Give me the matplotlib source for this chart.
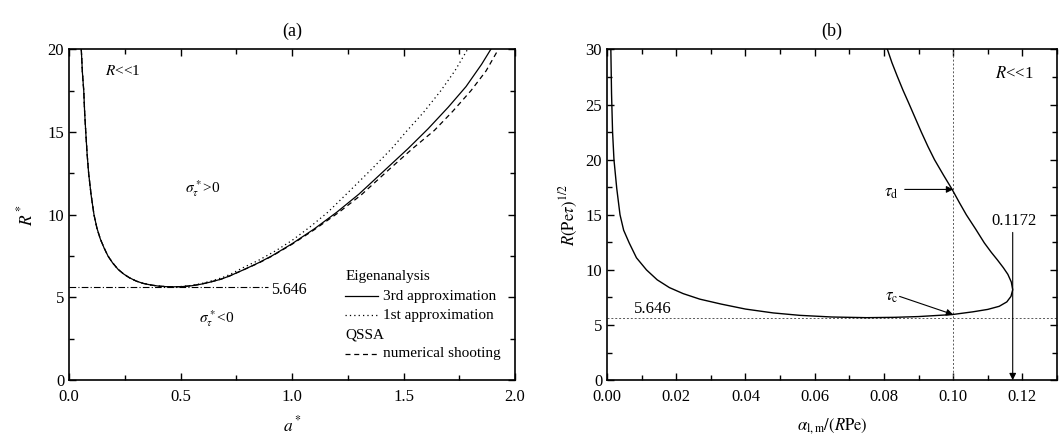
import numpy as np
import matplotlib
matplotlib.use("Agg")
import matplotlib.pyplot as plt
from matplotlib.ticker import MultipleLocator, FormatStrFormatter

plt.rcParams["font.family"] = "serif"
plt.rcParams["font.serif"] = ["Liberation Serif", "DejaVu Serif"]
plt.rcParams["mathtext.fontset"] = "stix"
plt.rcParams["font.size"] = 11

# (a) neutral curves R*(a*), left branch shared by all three
a_left = [0.055, 0.060, 0.066, 0.070, 0.075, 0.081, 0.088, 0.099, 0.112, 0.125, 0.14,
          0.157, 0.175, 0.195, 0.22, 0.245, 0.27, 0.30, 0.33, 0.365, 0.40, 0.435, 0.47]
R_left = [20.0, 18.6, 17.5, 16.2, 15.0, 13.7, 12.5, 11.2, 10.0, 9.2, 8.55,
          8.0, 7.5, 7.1, 6.7, 6.42, 6.2, 6.0, 5.86, 5.76, 5.69, 5.655, 5.646]

a_3rd = [0.51, 0.55, 0.59, 0.63, 0.68, 0.72, 0.79, 0.85, 0.91, 1.00, 1.10, 1.20,
         1.30, 1.42, 1.52, 1.61, 1.70, 1.78, 1.85, 1.891]
R_3rd = [5.66, 5.71, 5.80, 5.92, 6.10, 6.30, 6.72, 7.10, 7.52, 8.25, 9.15, 10.15,
         11.25, 12.75, 14.0, 15.2, 16.5, 17.75, 19.1, 20.0]

a_1st = [0.51, 0.55, 0.59, 0.63, 0.68, 0.72, 0.78, 0.85, 0.93, 1.00, 1.08, 1.16,
         1.24, 1.36, 1.45, 1.51, 1.59, 1.667, 1.73, 1.787]
R_1st = [5.67, 5.73, 5.83, 5.97, 6.17, 6.38, 6.80, 7.25, 7.85, 8.45, 9.26, 10.15,
         11.2, 12.8, 14.05, 15.0, 16.2, 17.5, 18.7, 20.0]

a_qssa = [0.51, 0.55, 0.59, 0.63, 0.68, 0.72, 0.79, 0.85, 0.91, 1.00, 1.10, 1.21,
          1.31, 1.44, 1.54, 1.638, 1.72, 1.802, 1.87, 1.925]
R_qssa = [5.66, 5.71, 5.80, 5.92, 6.10, 6.30, 6.72, 7.08, 7.50, 8.22, 9.10, 10.15,
          11.2, 12.8, 14.0, 15.1, 16.25, 17.5, 18.7, 20.0]

R_min = 5.646

# (b) neutral curve in (alpha, R(Pe tau)^1/2)
alpha_b = [0.0011, 0.0013, 0.0016, 0.0020, 0.0028, 0.00375, 0.0048, 0.0064, 0.0085, 0.0114,
           0.0145, 0.018, 0.022, 0.0268, 0.033, 0.040, 0.048, 0.0557, 0.065, 0.075,
           0.083, 0.090, 0.0997, 0.1057, 0.110, 0.1133, 0.1155, 0.1167, 0.1172, 0.1168,
           0.1158, 0.1145, 0.1128, 0.111, 0.109, 0.1065, 0.1038, 0.1018, 0.0997, 0.0972,
           0.0946, 0.0927, 0.0908, 0.089, 0.0872, 0.0855, 0.0838, 0.0823, 0.081]
R_b = [30.0, 26.0, 22.5, 20.0, 17.4, 15.0, 13.6, 12.45, 11.1, 10.0,
       9.1, 8.4, 7.85, 7.35, 6.9, 6.45, 6.1, 5.88, 5.73, 5.67,
       5.70, 5.77, 5.95, 6.2, 6.42, 6.7, 7.1, 7.6, 8.2, 8.9,
       9.6, 10.2, 10.9, 11.6, 12.45, 13.7, 15.0, 16.1, 17.3, 18.6,
       20.0, 21.2, 22.5, 23.8, 25.1, 26.3, 27.6, 28.8, 30.0]

alpha_mark = 0.10
alpha_max = 0.1172
R_tau_d = 17.3
R_tau_c = 5.95

fig = plt.figure(figsize=(10.62, 4.37), dpi=100)
ax1 = fig.add_axes([0.065, 0.130, 0.420, 0.757])
ax2 = fig.add_axes([0.5716, 0.130, 0.4237, 0.757])

for ax in (ax1, ax2):
    ax.tick_params(which="both", direction="in", top=True, right=True, width=1.0, labelsize=12)
    ax.tick_params(which="major", length=5)
    ax.tick_params(which="minor", length=3.5)
    ax.tick_params(axis="x", which="both", pad=6)
    for s in ax.spines.values():
        s.set_linewidth(1.2)

# ---- panel (a)
dash = (0, (4, 3))
dots = (0, (1, 2.5))
ax1.plot(a_left + a_qssa, R_left + R_qssa, color="k", lw=0.9, ls=dash)
ax1.plot(a_left + a_1st, R_left + R_1st, color="k", lw=0.9, ls=dots)
ax1.plot(a_left + a_3rd, R_left + R_3rd, color="k", lw=0.9)
ax1.plot([0, 0.89], [R_min, R_min], color="k", lw=0.8, ls=(0, (6, 2, 1, 2)))
ax1.text(0.905, R_min - 0.2, "5.646", va="center", ha="left", fontsize=11.5)
ax1.text(0.24, 18.7, r"$R$<<1", ha="center", va="center")
ax1.text(0.60, 11.6, r"$\sigma_\tau^*$>0", ha="center", va="center")
ax1.text(0.66, 3.7, r"$\sigma_\tau^*$<0", ha="center", va="center")

ax1.set_xlim(0, 2.0)
ax1.set_ylim(0, 20)
ax1.xaxis.set_major_locator(MultipleLocator(0.5))
ax1.xaxis.set_minor_locator(MultipleLocator(0.25))
ax1.yaxis.set_major_locator(MultipleLocator(5))
ax1.yaxis.set_minor_locator(MultipleLocator(2.5))
ax1.xaxis.set_major_formatter(FormatStrFormatter("%.1f"))
ax1.set_xlabel(r"$a^*$", labelpad=8, fontsize=12.5)
ax1.set_ylabel(r"$R^*$", labelpad=8, fontsize=12.5)
ax1.set_title("(a)", pad=10, fontsize=13)

# hand-made legend
tr = ax1.transAxes
x0, x1, xt = 0.619, 0.693, 0.704
ax1.text(x0, 0.312, "Eigenanalysis", transform=tr, va="center")
ax1.plot([x0, x1], [0.254, 0.254], transform=tr, color="k", lw=0.9)
ax1.text(xt, 0.254, "3rd approximation", transform=tr, va="center")
ax1.plot([x0, x1], [0.197, 0.197], transform=tr, color="k", lw=0.9, ls=dots)
ax1.text(xt, 0.197, "1st approximation", transform=tr, va="center")
ax1.text(x0, 0.138, "QSSA", transform=tr, va="center")
ax1.plot([x0, x1], [0.0805, 0.0805], transform=tr, color="k", lw=0.9, ls=dash)
ax1.text(xt, 0.0805, "numerical shooting", transform=tr, va="center")

# ---- panel (b)
ax2.axvline(alpha_mark, color="0.35", lw=0.7, ls=(0, (2, 2)))
ax2.axhline(R_min, color="0.35", lw=0.7, ls=(0, (2, 2)))
ax2.plot(alpha_b, R_b, color="k", lw=1.0)
arrow = dict(arrowstyle="-|>", color="k", lw=0.8, mutation_scale=10, shrinkA=0, shrinkB=0)
ax2.annotate("", xy=(alpha_mark, R_tau_d), xytext=(0.086, R_tau_d), arrowprops=arrow)
ax2.text(0.0822, 17.0, r"$\tau_\mathrm{d}$", ha="center", va="center", fontsize=12)
ax2.annotate("", xy=(alpha_mark, R_tau_c), xytext=(0.0845, 7.6), arrowprops=arrow)
ax2.text(0.0823, 7.5, r"$\tau_\mathrm{c}$", ha="center", va="center", fontsize=12)
ax2.annotate("", xy=(alpha_max, 0), xytext=(alpha_max, 13.4), arrowprops=arrow)
ax2.text(0.1177, 14.4, "0.1172", ha="center", va="center", fontsize=12)
ax2.text(0.1178, 27.8, r"$R$<<1", ha="center", va="center", fontsize=12)
ax2.text(0.0133, 6.5, "5.646", ha="center", va="center", fontsize=12)

ax2.set_xlim(0, 0.13)
ax2.set_ylim(0, 30)
ax2.xaxis.set_major_locator(MultipleLocator(0.02))
ax2.xaxis.set_minor_locator(MultipleLocator(0.01))
ax2.yaxis.set_major_locator(MultipleLocator(5))
ax2.yaxis.set_minor_locator(MultipleLocator(2.5))
ax2.xaxis.set_major_formatter(FormatStrFormatter("%.2f"))
ax2.set_xlabel(r"$\alpha_{\mathrm{l,m}}/(R\mathrm{Pe})$", labelpad=8, fontsize=12)
ax2.set_ylabel(r"$R(\mathrm{Pe}\tau)^{1/2}$", labelpad=4, fontsize=12)
ax2.set_title("(b)", pad=10, fontsize=13)

fig.savefig("out.png", dpi=100)
